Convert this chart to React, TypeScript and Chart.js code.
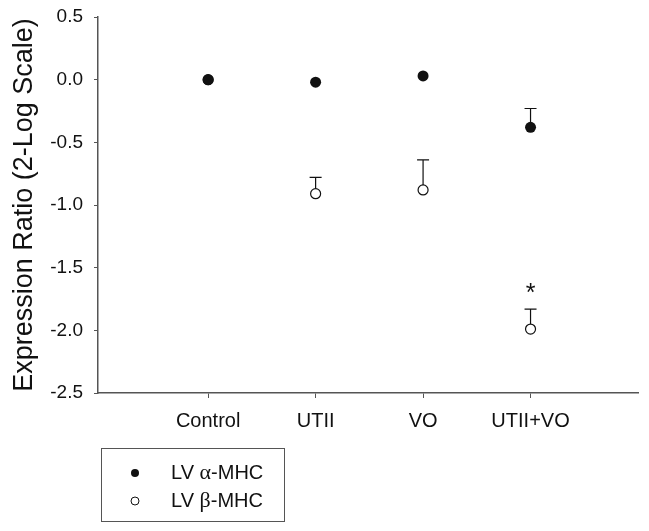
import React, { useEffect, useRef } from "react";
import { Chart, registerables } from "chart.js";

Chart.register(...registerables);

const categories = ["Control", "UTII", "VO", "UTII+VO"];
const categoryX = [1, 2, 3, 4];
const alphaMHC = [0.0, -0.02, 0.03, -0.38];
const alphaSEM = [0, 0, 0, 0.15];
const betaMHC = [0.0, -0.91, -0.88, -1.99];
const betaSEM = [0, 0.13, 0.24, 0.16];
const yTicks = [0.5, 0.0, -0.5, -1.0, -1.5, -2.0, -2.5];
const significance = [{ x: 4, y: -1.67, label: "*" }];
const legendLabels = [
  { pre: "LV ", greek: "α", post: "-MHC", filled: true },
  { pre: "LV ", greek: "β", post: "-MHC", filled: false },
];

const SANS = "'Liberation Sans', Arial, sans-serif";
const SERIF = "'Liberation Serif', 'Times New Roman', serif";
const AXIS = "#555555";
const INK = "#111111";

const errorBarPlugin = {
  id: "errorBars",
  beforeDatasetsDraw(chart: any) {
    const { ctx, scales } = chart;
    const xs = scales.x;
    const ys = scales.y;
    const sets = [
      { vals: alphaMHC, sem: alphaSEM },
      { vals: betaMHC, sem: betaSEM },
    ];
    ctx.save();
    ctx.strokeStyle = INK;
    ctx.lineWidth = 1.2;
    sets.forEach((s) => {
      s.vals.forEach((v, i) => {
        if (!s.sem[i]) return;
        const px = xs.getPixelForValue(categoryX[i]);
        const y0 = ys.getPixelForValue(v);
        const y1 = ys.getPixelForValue(v + s.sem[i]);
        ctx.beginPath();
        ctx.moveTo(px, y0);
        ctx.lineTo(px, y1);
        ctx.moveTo(px - 6, y1);
        ctx.lineTo(px + 6, y1);
        ctx.stroke();
      });
    });
    ctx.restore();
  },
  afterDatasetsDraw(chart: any) {
    const { ctx, scales } = chart;
    ctx.save();
    ctx.fillStyle = INK;
    ctx.font = `25px ${SANS}`;
    ctx.textAlign = "center";
    ctx.textBaseline = "middle";
    significance.forEach((s) => {
      ctx.fillText(s.label, scales.x.getPixelForValue(s.x), scales.y.getPixelForValue(s.y) + 5);
    });
    ctx.restore();
  },
  afterDraw(chart: any) {
    const { ctx, chartArea } = chart;
    const left = chartArea.left + 3;
    const top = chartArea.bottom + 55;
    const w = 183;
    const h = 73;
    ctx.save();
    ctx.strokeStyle = AXIS;
    ctx.lineWidth = 1;
    ctx.strokeRect(left + 0.5, top + 0.5, w, h);
    legendLabels.forEach((l, i) => {
      const cy = top + 25 + i * 28;
      const mx = left + 34;
      ctx.beginPath();
      ctx.arc(mx, cy, 4, 0, Math.PI * 2);
      if (l.filled) {
        ctx.fillStyle = INK;
        ctx.fill();
      } else {
        ctx.fillStyle = "#fff";
        ctx.fill();
        ctx.strokeStyle = INK;
        ctx.lineWidth = 1;
        ctx.stroke();
      }
      ctx.fillStyle = INK;
      ctx.textBaseline = "middle";
      ctx.textAlign = "left";
      let x = left + 70;
      ctx.font = `20px ${SANS}`;
      ctx.fillText(l.pre, x, cy);
      x += ctx.measureText(l.pre).width;
      ctx.font = `22px ${SERIF}`;
      ctx.fillText(l.greek, x, cy);
      x += ctx.measureText(l.greek).width;
      ctx.font = `20px ${SANS}`;
      ctx.fillText(l.post, x, cy);
    });
    ctx.restore();
  },
};

export default function App() {
  const ref = useRef<HTMLCanvasElement | null>(null);
  useEffect(() => {
    if (!ref.current) return;
    const chart = new Chart(ref.current, {
      type: "scatter",
      data: {
        datasets: [
          {
            label: "LV α-MHC",
            data: categoryX.map((x, i) => ({ x, y: alphaMHC[i] })),
            pointRadius: 5.5,
            pointBackgroundColor: INK,
            pointBorderColor: INK,
            pointBorderWidth: 0,
            showLine: false,
          },
          {
            label: "LV β-MHC",
            data: categoryX.map((x, i) => ({ x, y: betaMHC[i] })),
            pointRadius: 5,
            pointBackgroundColor: "#ffffff",
            pointBorderColor: INK,
            pointBorderWidth: 1.2,
            showLine: false,
          },
        ],
      },
      options: {
        animation: false,
        responsive: false,
        maintainAspectRatio: false,
        layout: { padding: { top: 17, right: 11, left: 0, bottom: 0 } },
        plugins: { legend: { display: false }, tooltip: { enabled: false } },
        scales: {
          x: {
            type: "linear",
            min: -0.025,
            max: 5,
            afterFit: (s: any) => {
              s.height = 138;
              s.paddingLeft = 0;
              s.paddingRight = 0;
            },
            afterBuildTicks: (s: any) => {
              s.ticks = categoryX.map((v) => ({ value: v }));
            },
            grid: { drawOnChartArea: false, drawTicks: true, tickLength: 5, color: AXIS },
            border: { color: AXIS, width: 1.5 },
            ticks: {
              autoSkip: false,
              maxRotation: 0,
              padding: 11,
              color: INK,
              font: { family: SANS, size: 20 },
              callback: (v: any) => categories[categoryX.indexOf(Number(v))] ?? "",
            },
          },
          y: {
            type: "linear",
            min: -2.5,
            max: 0.5,
            afterFit: (s: any) => {
              s.width = 98;
              s.paddingTop = 0;
              s.paddingBottom = 0;
            },
            afterBuildTicks: (s: any) => {
              s.ticks = yTicks.map((v) => ({ value: v }));
            },
            grid: { drawOnChartArea: false, drawTicks: true, tickLength: 4, color: AXIS },
            border: { color: AXIS, width: 1.5 },
            title: {
              display: true,
              text: "Expression Ratio (2-Log Scale)",
              color: INK,
              font: { family: SANS, size: 27 },
              padding: { top: 8, bottom: 0 },
            },
            ticks: {
              padding: 11,
              color: INK,
              font: { family: SANS, size: 19 },
              callback: (v: any) => Number(v).toFixed(1),
            },
          },
        },
      },
      plugins: [errorBarPlugin],
    });
    return () => chart.destroy();
  }, []);
  return (
    <div style={{ position: "fixed", left: 0, top: 0, width: 649, height: 531, background: "#fff" }}>
      <canvas ref={ref} width={649} height={531} style={{ width: 649, height: 531 }} />
    </div>
  );
}
